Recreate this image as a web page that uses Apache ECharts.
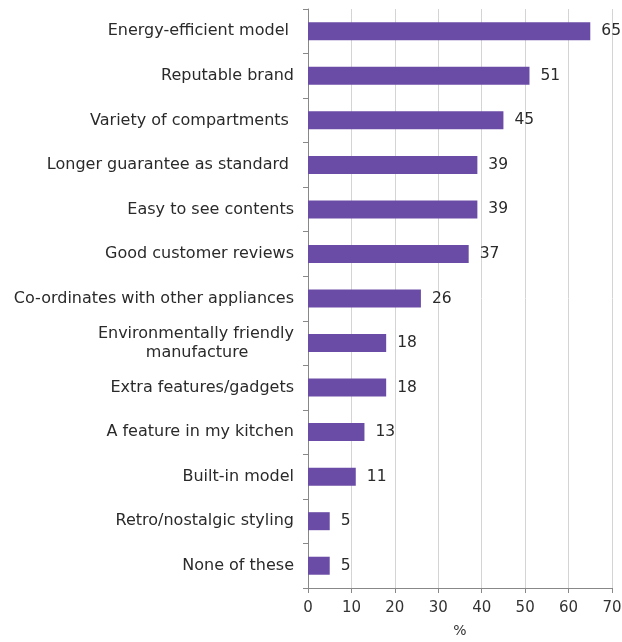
<!DOCTYPE html>
<html><head><meta charset="utf-8">
<script src="https://cdn.jsdelivr.net/npm/echarts@6/dist/echarts.min.js"></script>
<style>html,body{margin:0;padding:0;background:#fff}#c{width:622px;height:642px}</style>
</head><body><div id="c"></div>
<script>
const categories = ["Energy-efficient model ","Reputable brand","Variety of compartments ","Longer guarantee as standard ","Easy to see contents","Good customer reviews","Co-ordinates with other appliances","Environmentally friendly\nmanufacture         ","Extra features/gadgets","A feature in my kitchen","Built-in model","Retro/nostalgic styling","None of these"];
const values = [65,51,45,39,39,37,26,18,18,13,11,5,5];
const xTicks = [0,10,20,30,40,50,60,70];
const xTitle = "%";
const chart = echarts.init(document.getElementById('c'));
const font = 'DejaVu Sans, Verdana, sans-serif';
chart.setOption({
  animation:false,
  grid:{left:308,right:10,top:9,bottom:54,containLabel:false,outerBoundsMode:'none'},
  xAxis:{type:'value',min:xTicks[0],max:xTicks[xTicks.length-1],interval:10,
    name:xTitle,nameLocation:'middle',nameGap:36,nameTextStyle:{fontFamily:font,fontSize:14,color:'#333'},
    axisLine:{show:true,lineStyle:{color:'#888'}},axisTick:{show:true,length:5,lineStyle:{color:'#888'}},
    axisLabel:{fontFamily:font,fontSize:15,color:'#333',margin:13},
    splitLine:{show:true,lineStyle:{color:'#d4d4d4'}}},
  yAxis:{type:'category',data:categories,inverse:true,
    axisLine:{show:true,lineStyle:{color:'#888'}},axisTick:{show:true,length:5,lineStyle:{color:'#888'}},
    axisLabel:{fontFamily:font,fontSize:16,color:'#2a2a2a',margin:14,align:'right',lineHeight:19}},
  series:[{type:'bar',data:values,barWidth:18,itemStyle:{color:'#6a4ca6'},
    label:{show:true,position:'right',distance:11,fontFamily:font,fontSize:15.5,color:'#2a2a2a'}}]
});
</script></body></html>
